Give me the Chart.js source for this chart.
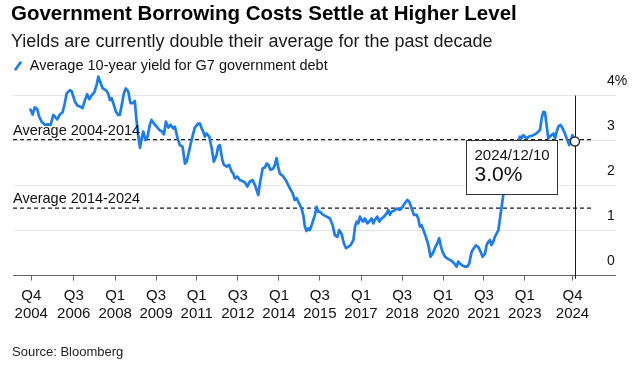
<!DOCTYPE html>
<html>
<head>
<meta charset="utf-8">
<script src="https://cdn.jsdelivr.net/npm/chart.js@4"></script>
<style>
html,body{margin:0;padding:0;background:#fff;}
#wrap{position:relative;width:639px;height:365px;}
</style>
</head>
<body>
<div id="wrap"><canvas id="c"></canvas></div>
<script>
const titleText = 'Government Borrowing Costs Settle at Higher Level';
const subtitleText = 'Yields are currently double their average for the past decade';
const seriesLabel = 'Average 10-year yield for G7 government debt';
const sourceText = 'Source: Bloomberg';
const lastDateLabel = '2024/12/10';

// decimal-year dates and yields (%)
const dates = [
  2004.96, 2005.04, 2005.12, 2005.21, 2005.28, 2005.37, 2005.49, 2005.61, 2005.70, 2005.80,
  2005.86, 2005.94, 2006.04, 2006.14, 2006.22, 2006.29, 2006.41, 2006.47, 2006.59, 2006.68,
  2006.77, 2006.87, 2006.96, 2007.04, 2007.12, 2007.20, 2007.30, 2007.39, 2007.45, 2007.51,
  2007.61, 2007.73, 2007.81, 2007.88, 2007.94, 2008.00, 2008.10, 2008.18, 2008.24, 2008.30,
  2008.39, 2008.46, 2008.55, 2008.63, 2008.71, 2008.79, 2008.85, 2008.92, 2008.98, 2009.04,
  2009.10, 2009.18, 2009.26, 2009.34, 2009.40, 2009.49, 2009.59, 2009.69, 2009.77, 2009.86,
  2009.93, 2010.02, 2010.10, 2010.20, 2010.26, 2010.36, 2010.44, 2010.54, 2010.63, 2010.69,
  2010.75, 2010.87, 2010.99, 2011.12, 2011.18, 2011.24, 2011.30, 2011.36, 2011.42, 2011.52,
  2011.61, 2011.69, 2011.79, 2011.85, 2011.91, 2012.00, 2012.06, 2012.16, 2012.25, 2012.34,
  2012.40, 2012.46, 2012.55, 2012.65, 2012.74, 2012.83, 2012.92, 2013.01, 2013.11, 2013.20,
  2013.26, 2013.32, 2013.38, 2013.48, 2013.56, 2013.63, 2013.69, 2013.77, 2013.87, 2013.93,
  2013.99, 2014.05, 2014.11, 2014.24, 2014.33, 2014.42, 2014.48, 2014.58, 2014.66, 2014.73,
  2014.79, 2014.91, 2014.97, 2015.03, 2015.09, 2015.15, 2015.21, 2015.28, 2015.40, 2015.46,
  2015.52, 2015.58, 2015.70, 2015.83, 2015.95, 2016.05, 2016.13, 2016.22, 2016.29, 2016.38,
  2016.46, 2016.54, 2016.62, 2016.71, 2016.81, 2016.87, 2016.93, 2016.99, 2017.05, 2017.11,
  2017.17, 2017.23, 2017.32, 2017.39, 2017.48, 2017.54, 2017.60, 2017.69, 2017.76, 2017.85,
  2017.93, 2018.03, 2018.09, 2018.15, 2018.21, 2018.30, 2018.40, 2018.52, 2018.62, 2018.70,
  2018.79, 2018.86, 2018.95, 2019.03, 2019.13, 2019.19, 2019.25, 2019.31, 2019.40, 2019.47,
  2019.56, 2019.64, 2019.72, 2019.80, 2019.89, 2019.96, 2020.01, 2020.08, 2020.17, 2020.26,
  2020.35, 2020.45, 2020.54, 2020.60, 2020.66, 2020.72, 2020.82, 2020.90, 2020.99, 2021.06,
  2021.15, 2021.23, 2021.31, 2021.39, 2021.48, 2021.55, 2021.64, 2021.70, 2021.76, 2021.82,
  2021.88, 2021.94, 2022.00, 2022.07, 2022.13, 2022.19, 2022.25, 2022.31, 2022.43, 2022.53,
  2022.61, 2022.69, 2022.80, 2022.87, 2022.92, 2022.98, 2023.04, 2023.11, 2023.17, 2023.26,
  2023.41, 2023.53, 2023.66, 2023.72, 2023.78, 2023.84, 2023.90, 2023.96, 2024.02, 2024.15,
  2024.21, 2024.27, 2024.33, 2024.41, 2024.49, 2024.57, 2024.66, 2024.73, 2024.78, 2024.85,
  2024.90, 2024.94
];
const yields = [
  3.69, 3.58, 3.74, 3.70, 3.53, 3.42, 3.35, 3.36, 3.35, 3.57,
  3.53, 3.47, 3.58, 3.63, 3.83, 4.05, 4.12, 4.10, 3.87, 3.78,
  3.76, 3.72, 3.90, 4.03, 3.92, 4.00, 4.07, 4.24, 4.42, 4.32,
  4.16, 4.12, 4.05, 3.90, 3.94, 3.83, 3.64, 3.57, 3.57, 3.76,
  4.05, 4.16, 4.09, 3.83, 3.83, 3.88, 3.46, 3.09, 2.84, 3.05,
  3.20, 3.01, 3.09, 3.35, 3.46, 3.38, 3.31, 3.24, 3.21, 3.14,
  3.42, 3.29, 3.35, 3.27, 3.31, 3.05, 2.90, 2.87, 2.49, 2.53,
  2.68, 3.01, 3.29, 3.38, 3.38, 3.27, 3.20, 3.09, 3.16, 3.09,
  2.83, 2.53, 2.68, 2.87, 2.90, 2.57, 2.46, 2.42, 2.46, 2.31,
  2.27, 2.16, 2.20, 2.12, 2.10, 2.07, 1.98, 2.09, 2.12, 2.01,
  1.90, 1.79, 2.05, 2.38, 2.40, 2.49, 2.46, 2.35, 2.38, 2.46,
  2.61, 2.42, 2.27, 2.20, 2.12, 2.01, 1.94, 1.83, 1.68, 1.72,
  1.64, 1.49, 1.35, 1.09, 0.99, 1.05, 1.01, 1.12, 1.35, 1.53,
  1.42, 1.42, 1.35, 1.31, 1.27, 1.12, 0.90, 0.86, 1.01, 0.92,
  0.72, 0.61, 0.64, 0.68, 0.79, 1.09, 1.20, 1.16, 1.31, 1.24,
  1.20, 1.27, 1.16, 1.20, 1.27, 1.16, 1.24, 1.31, 1.20, 1.27,
  1.31, 1.38, 1.46, 1.35, 1.42, 1.44, 1.49, 1.46, 1.53, 1.61,
  1.68, 1.64, 1.49, 1.35, 1.35, 1.27, 1.09, 1.12, 0.98, 0.86,
  0.68, 0.42, 0.49, 0.61, 0.72, 0.83, 0.68, 0.53, 0.42, 0.38,
  0.35, 0.31, 0.25, 0.20, 0.31, 0.27, 0.22, 0.20, 0.20, 0.27,
  0.53, 0.61, 0.67, 0.64, 0.53, 0.42, 0.49, 0.68, 0.75, 0.79,
  0.68, 0.75, 0.86, 0.94, 1.01, 1.27, 1.53, 1.79, 2.16, 2.38,
  2.53, 2.68, 2.87, 2.98, 3.09, 3.05, 3.12, 3.09, 3.05, 3.09,
  3.12, 3.16, 3.24, 3.50, 3.64, 3.63, 3.35, 3.05, 3.09, 3.16,
  3.05, 3.20, 3.31, 3.35, 3.27, 3.16, 3.01, 2.90, 2.98, 3.12,
  3.01, 2.98
];

const avgLabels = ['Average 2004-2014', 'Average 2014-2024'];
const avgValues = [3.02, 1.50];

const tickValues = [2004.99, 2006.55, 2008.07, 2009.57, 2011.06, 2012.57, 2014.08,
                    2015.58, 2017.09, 2018.60, 2020.10, 2021.60, 2023.10, 2024.85];
const tickLabels = [['Q4','2004'],['Q3','2006'],['Q1','2008'],['Q3','2009'],['Q1','2011'],
                    ['Q3','2012'],['Q1','2014'],['Q3','2015'],['Q1','2017'],['Q3','2018'],
                    ['Q1','2020'],['Q3','2021'],['Q1','2023'],['Q4','2024']];
const yTickValues = [0, 1, 2, 3, 4];

const FONT = "'Liberation Sans', Arial, Helvetica, sans-serif";
const BLUE = '#1d7cf2';

const overlay = {
  id: 'overlay',
  beforeDatasetsDraw(chart) {
    const {ctx, chartArea: ca, scales: {x, y}} = chart;
    ctx.save();
    ctx.strokeStyle = '#1a1a1a';
    ctx.lineWidth = 1.2;
    ctx.setLineDash([4, 3]);
    avgValues.forEach(v => {
      const py = y.getPixelForValue(v);
      ctx.beginPath(); ctx.moveTo(ca.left, py); ctx.lineTo(ca.right - 7, py); ctx.stroke();
    });
    ctx.setLineDash([]);
    const last = dates.length - 1;
    const px = Math.round(x.getPixelForValue(dates[last])) + 0.5;
    ctx.lineWidth = 1;
    ctx.beginPath();
    ctx.moveTo(px, y.getPixelForValue(yTickValues[yTickValues.length - 1]));
    ctx.lineTo(px, ca.bottom + 3);
    ctx.stroke();
    ctx.restore();
  },
  afterDatasetsDraw(chart) {
    const {ctx, chartArea: ca, scales: {x, y}} = chart;
    ctx.save();
    ctx.fillStyle = '#111';
    ctx.font = '14.5px ' + FONT;
    ctx.textBaseline = 'alphabetic';
    ctx.textAlign = 'left';
    avgValues.forEach((v, i) => {
      ctx.fillText(avgLabels[i], ca.left, y.getPixelForValue(v) - 5);
    });
    const last = dates.length - 1;
    const px = x.getPixelForValue(dates[last]);
    const py = y.getPixelForValue(yields[last]);
    const valText = yields[last].toFixed(1) + '%';
    ctx.font = '15px ' + FONT;
    const w1 = ctx.measureText(lastDateLabel).width;
    ctx.font = '21px ' + FONT;
    const w2 = ctx.measureText(valText).width;
    const bw = Math.round(Math.max(w1, w2) + 16);
    const bh = 54;
    const bx = Math.round(px - 18 - bw) + 0.5;
    const by = Math.round(py - 1.5) + 0.5;
    ctx.fillStyle = '#fff';
    ctx.fillRect(bx, by, bw, bh);
    ctx.strokeStyle = '#333';
    ctx.lineWidth = 1;
    ctx.strokeRect(bx, by, bw, bh);
    ctx.fillStyle = '#111';
    ctx.textBaseline = 'middle';
    ctx.font = '15px ' + FONT;
    ctx.fillText(lastDateLabel, bx + 8, by + 15.5);
    ctx.font = '21px ' + FONT;
    ctx.fillText(valText, bx + 8, by + 35);
    ctx.restore();
  },
  afterDraw(chart) {
    const {ctx} = chart;
    ctx.save();
    ctx.fillStyle = '#222';
    ctx.font = '13px ' + FONT;
    ctx.textBaseline = 'middle';
    ctx.textAlign = 'left';
    ctx.fillText(sourceText, 12, 352);
    ctx.restore();
  }
};

new Chart(document.getElementById('c'), {
  type: 'line',
  data: {
    datasets: [{
      label: seriesLabel,
      data: dates.map((d, i) => ({x: d, y: yields[i]})),
      borderColor: BLUE,
      backgroundColor: BLUE,
      borderWidth: 2.7,
      tension: 0,
      clip: false,
      borderJoinStyle: 'round',
      borderCapStyle: 'round',
      pointRadius: c => c.dataIndex === dates.length - 1 ? 4.5 : 0,
      pointBackgroundColor: '#fff',
      pointBorderColor: '#333',
      pointBorderWidth: 1.5
    }]
  },
  options: {
    responsive: true,
    maintainAspectRatio: false,
    animation: false,
    events: [],
    layout: {padding: {top: 0, left: 11, right: 0, bottom: 42.4}},
    scales: {
      x: {
        type: 'linear',
        min: 2004.32,
        max: 2025.86,
        afterBuildTicks: s => { s.ticks = tickValues.map(v => ({value: v})); },
        afterFit: s => { s.height = 47; },
        grid: {display: true, drawOnChartArea: false, drawTicks: true, tickLength: 5, color: '#666'},
        border: {display: true, color: '#666', width: 1},
        ticks: {
          autoSkip: false, maxRotation: 0, minRotation: 0, padding: 6,
          color: '#111', font: {family: FONT, size: 15, lineHeight: 1.2},
          callback: (v, i) => tickLabels[i]
        }
      },
      y: {
        type: 'linear',
        position: 'right',
        min: 0,
        max: 4.2744,
        afterBuildTicks: s => { s.ticks = yTickValues.map(v => ({value: v})); },
        afterFit: s => { s.width = 39; },
        grid: {
          drawTicks: true,
          tickLength: 16,
          lineWidth: 1,
          color: c => (c.tick && c.tick.value === 0) ? '#666' : '#e6e6e6'
        },
        border: {display: false},
        ticks: {
          padding: -9, labelOffset: -14, color: '#111',
          font: {family: FONT, size: 14},
          callback: v => v === 4 ? '4%' : String(v)
        }
      },
      yL: {
        type: 'linear',
        position: 'left',
        display: true,
        grid: {display: false, drawTicks: false},
        border: {display: false},
        ticks: {display: false},
        afterFit: s => { s.width = 2; }
      }
    },
    plugins: {
      title: {
        display: true, text: titleText, align: 'start', color: '#000',
        font: {family: FONT, size: 20.5, weight: 'bold', lineHeight: 1.2},
        padding: {top: 2, bottom: 0}
      },
      subtitle: {
        display: true, text: subtitleText, align: 'start', color: '#1a1a1a',
        font: {family: FONT, size: 18, weight: 'normal', lineHeight: 1.2},
        padding: {top: 4.6, bottom: 3.45}
      },
      legend: {
        display: true, position: 'top', align: 'start',
        labels: {
          usePointStyle: true, boxWidth: 9, boxHeight: 7.5, padding: 2.5,
          color: '#111', font: {family: FONT, size: 14.5},
          generateLabels: () => [{
            text: seriesLabel, fillStyle: BLUE, strokeStyle: BLUE, lineWidth: 2.7,
            pointStyle: 'line', rotation: -55, hidden: false, datasetIndex: 0, fontColor: '#111'
          }]
        }
      },
      tooltip: {enabled: false}
    }
  },
  plugins: [overlay]
});
</script>
</body>
</html>
